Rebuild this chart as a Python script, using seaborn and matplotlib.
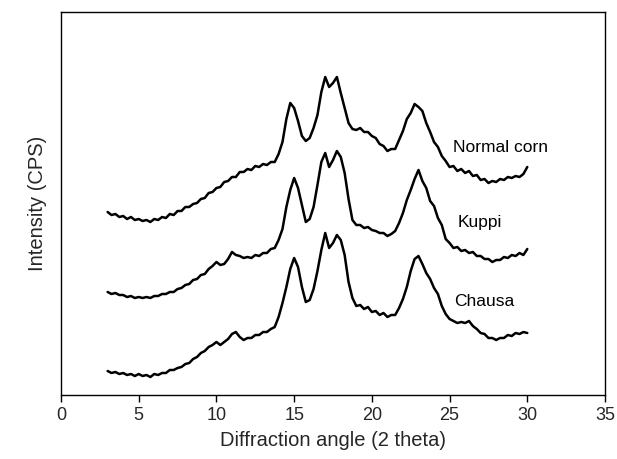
import matplotlib
matplotlib.use("Agg")
import matplotlib.pyplot as plt
import seaborn as sns
import pandas as pd

angle = [3.00, 3.25, 3.50, 3.75, 4.00, 4.25, 4.50, 4.75, 5.00, 5.25, 5.50, 5.75,
         6.00, 6.25, 6.50, 6.75, 7.00, 7.25, 7.50, 7.75, 8.00, 8.25, 8.50, 8.75,
         9.00, 9.25, 9.50, 9.75, 10.00, 10.25, 10.50, 10.75, 11.00, 11.25, 11.50, 11.75,
         12.00, 12.25, 12.50, 12.75, 13.00, 13.25, 13.50, 13.75, 14.00, 14.25, 14.50, 14.75,
         15.00, 15.25, 15.50, 15.75, 16.00, 16.25, 16.50, 16.75, 17.00, 17.25, 17.50, 17.75,
         18.00, 18.25, 18.50, 18.75, 19.00, 19.25, 19.50, 19.75, 20.00, 20.25, 20.50, 20.75,
         21.00, 21.25, 21.50, 21.75, 22.00, 22.25, 22.50, 22.75, 23.00, 23.25, 23.50, 23.75,
         24.00, 24.25, 24.50, 24.75, 25.00, 25.25, 25.50, 25.75, 26.00, 26.25, 26.50, 26.75,
         27.00, 27.25, 27.50, 27.75, 28.00, 28.25, 28.50, 28.75, 29.00, 29.25, 29.50, 29.75,
         30.00]

normal_corn = [183, 180, 181, 178, 179, 176, 178, 175, 176, 174, 175, 173,
               176, 175, 178, 177, 181, 180, 184, 184, 188, 188, 191, 192,
               196, 197, 202, 203, 207, 208, 213, 214, 218, 218, 223, 223,
               226, 225, 229, 228, 231, 230, 233, 233, 241, 253, 276, 292,
               287, 274, 259, 254, 257, 267, 280, 303, 318, 308, 312, 318,
               302, 287, 272, 266, 265, 267, 263, 263, 259, 257, 251, 249,
               244, 246, 246, 255, 264, 276, 282, 291, 288, 284, 272, 263,
               253, 248, 239, 234, 228, 229, 224, 226, 222, 224, 219, 220,
               215, 216, 212, 214, 213, 216, 215, 218, 217, 219, 218, 221,
               228]

kuppi = [103, 101, 102, 100, 100, 98, 99, 97, 98, 97, 98, 97,
         99, 99, 101, 101, 103, 103, 106, 107, 110, 111, 115, 116,
         120, 121, 126, 129, 133, 130, 131, 136, 143, 140, 139, 137,
         138, 137, 140, 139, 142, 142, 146, 147, 155, 166, 188, 205,
         217, 207, 190, 173, 176, 188, 210, 233, 242, 228, 235, 244,
         238, 222, 196, 175, 170, 170, 167, 168, 165, 164, 162, 162,
         159, 161, 164, 172, 182, 195, 205, 216, 225, 214, 207, 194,
         189, 177, 170, 156, 152, 147, 148, 144, 145, 142, 143, 139,
         139, 136, 136, 133, 135, 135, 138, 137, 140, 139, 142, 140,
         146]

chausa = [24, 22, 23, 21, 22, 20, 21, 19, 21, 19, 20, 18,
          21, 20, 22, 22, 25, 25, 27, 28, 31, 32, 36, 38,
          42, 44, 48, 50, 53, 50, 53, 56, 61, 63, 58, 55,
          57, 57, 60, 60, 63, 63, 66, 68, 78, 92, 108, 126,
          137, 128, 108, 93, 95, 106, 124, 145, 162, 147, 152, 160,
          155, 140, 113, 97, 89, 90, 86, 88, 83, 84, 80, 82,
          78, 80, 80, 87, 96, 108, 124, 136, 139, 131, 122, 116,
          107, 101, 89, 81, 76, 74, 72, 73, 72, 74, 69, 66,
          62, 61, 57, 57, 55, 57, 57, 60, 59, 62, 61, 63,
          62]

labels = ["Normal corn", "Kuppi", "Chausa"]
label_pos = [(25.2, 248), (25.5, 173), (25.3, 93)]
x_ticks = [0, 5, 10, 15, 20, 25, 30, 35]

sns.set_style("ticks")
plt.rcParams["font.family"] = ["Liberation Sans", "DejaVu Sans"]

fig = plt.figure(figsize=(6.17, 4.59), dpi=100)
ax = fig.add_axes([61 / 617, 1 - 395 / 459, (605 - 61) / 617, (395 - 12) / 459])

for name, vals in zip(labels, [normal_corn, kuppi, chausa]):
    df = pd.DataFrame({"angle": angle, "intensity": vals})
    sns.lineplot(data=df, x="angle", y="intensity", ax=ax, color="black",
                 linewidth=1.8, estimator=None, sort=False)

for name, (tx, ty) in zip(labels, label_pos):
    ax.text(tx, ty, name, fontsize=12.5, ha="left", va="center", color="black")

ax.set_xlim(0, 35)
ax.set_ylim(0, 383)
ax.set_xticks(x_ticks)
ax.set_xticklabels([str(t) for t in x_ticks], fontsize=13)
ax.set_yticks([])
ax.set_xlabel("Diffraction angle (2 theta)", fontsize=14.5, labelpad=5)
ax.set_ylabel("Intensity (CPS)", fontsize=14.5, labelpad=10)
ax.tick_params(axis="x", direction="out", length=5, width=1, color="black", pad=4)
for s in ax.spines.values():
    s.set_visible(True)
    s.set_color("black")
    s.set_linewidth(1.0)

fig.savefig("out.png", dpi=100)
